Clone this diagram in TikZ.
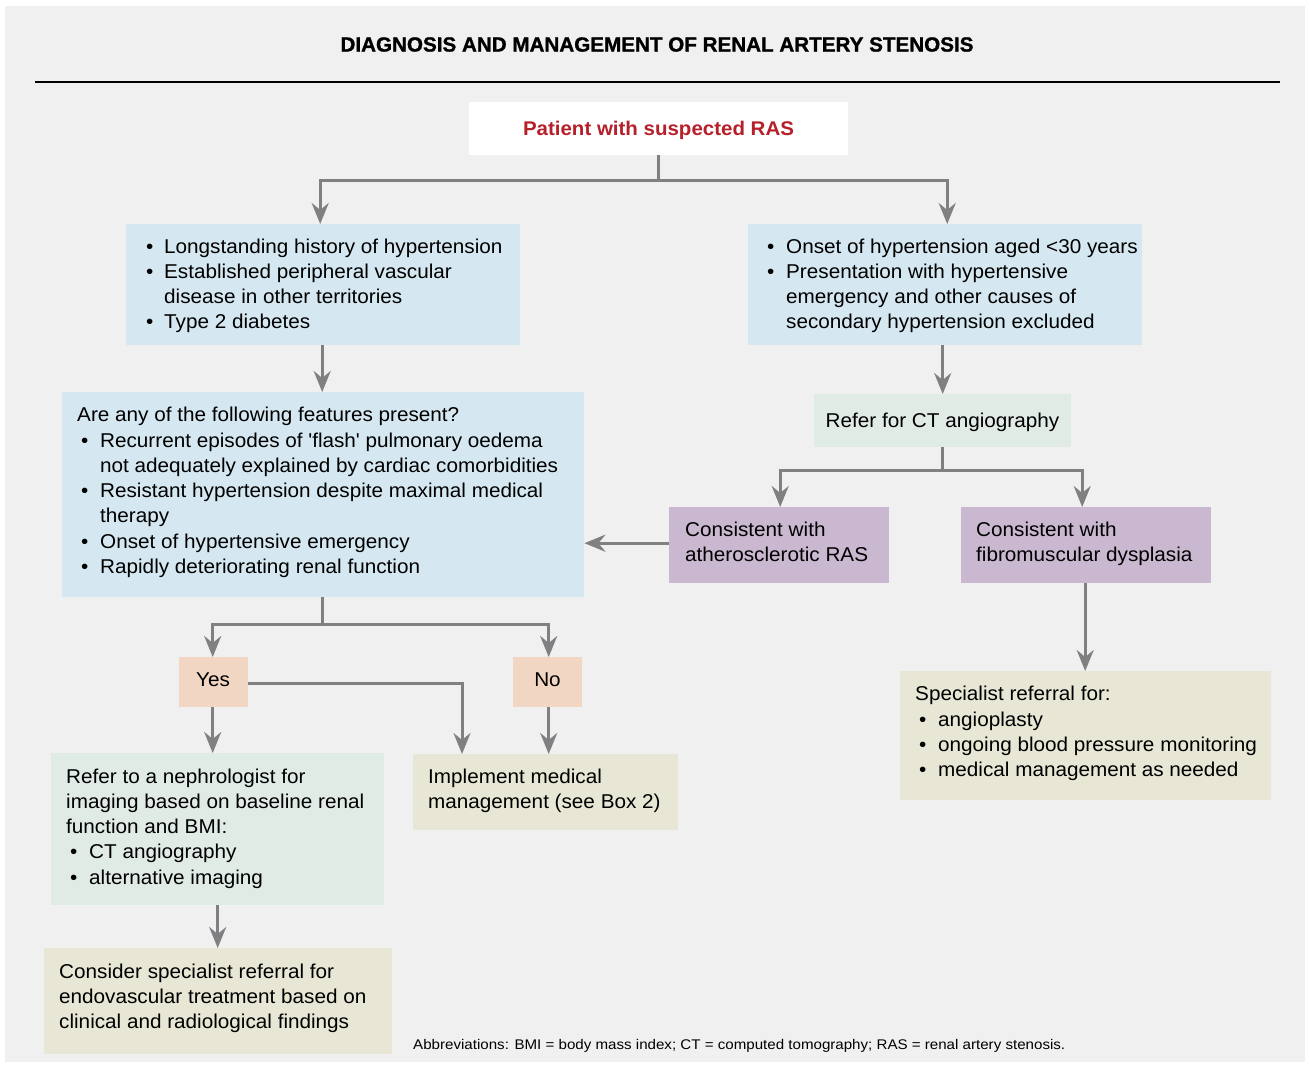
\documentclass[tikz,border=0pt]{standalone}
\usepackage{fontspec}
\setmainfont[FakeStretch=1.035]{Liberation Sans}
\newfontfamily\titlefont[FakeBold=1.2]{Liberation Sans Bold}
\usetikzlibrary{arrows.meta}
\definecolor{bg}{HTML}{F0F0F0}
\definecolor{bluebox}{HTML}{D5E7F0}
\definecolor{greenbox}{HTML}{E1EBE6}
\definecolor{purplebox}{HTML}{C9B8CF}
\definecolor{peachbox}{HTML}{F2D6C4}
\definecolor{beigebox}{HTML}{E8E6D5}
\definecolor{arrgray}{HTML}{808083}
\definecolor{titlered}{HTML}{B5202A}
\newcommand{\bu}[1]{\makebox[#1][l]{•}}
\begin{document}
\begin{tikzpicture}[x=1pt,y=-1pt,
  box/.style={draw=none, inner sep=0pt, anchor=north west},
  txt/.style={anchor=base west, inner sep=0pt, font=\fontsize{20}{25.3}\selectfont},
  ctxt/.style={anchor=base, inner sep=0pt, font=\fontsize{20}{25.3}\selectfont},
  arr/.style={draw=arrgray, line width=3pt, -{Stealth[length=21pt,width=17pt,inset=7pt]}},
  ln/.style={draw=arrgray, line width=3pt}
]
\fill[white] (0,0) rectangle (1309,1066);
\useasboundingbox (0,0) rectangle (1309,1066);
\fill[bg] (5,6) rectangle (1305,1062);

% title
\node[inner sep=0pt] (title) at (657,44.5) {\resizebox{633pt}{\height}{\fontsize{20.5}{24}\titlefont DIAGNOSIS AND MANAGEMENT OF RENAL ARTERY STENOSIS}};
\coordinate (rl) at (35,82);
\coordinate (rr) at (1280,82);
\draw[line width=1.6pt] (rl) -- (rr);

% boxes
\node[box, fill=white, minimum width=379pt, minimum height=53pt] (pat) at (469,102) {};
\node[box, fill=bluebox, minimum width=394pt, minimum height=121pt] (lb) at (126,224) {};
\node[box, fill=bluebox, minimum width=394pt, minimum height=121pt] (rb) at (748,224) {};
\node[box, fill=bluebox, minimum width=522pt, minimum height=205pt] (q) at (62,392) {};
\node[box, fill=greenbox, minimum width=257pt, minimum height=53pt] (ct) at (814,394) {};
\node[box, fill=purplebox, minimum width=220pt, minimum height=76pt] (ath) at (669,507) {};
\node[box, fill=purplebox, minimum width=250pt, minimum height=76pt] (fib) at (961,507) {};
\node[box, fill=peachbox, minimum width=69pt, minimum height=50pt] (yes) at (179,657) {};
\node[box, fill=peachbox, minimum width=69pt, minimum height=50pt] (no) at (513,657) {};
\node[box, fill=greenbox, minimum width=333pt, minimum height=152pt] (neph) at (51,753) {};
\node[box, fill=beigebox, minimum width=265pt, minimum height=76pt] (impl) at (413,754) {};
\node[box, fill=beigebox, minimum width=371pt, minimum height=129pt] (spec) at (900,671) {};
\node[box, fill=beigebox, minimum width=348pt, minimum height=106pt] (cons) at (44,948) {};

% texts
\node[anchor=base, inner sep=0pt, text=titlered, font=\fontsize{19.8}{24}\selectfont\bfseries] (patt) at (658.5,135.5) {Patient with suspected RAS};

\node[txt] (lbt) at (146,253) {\begin{tabular}[t]{@{}l@{}}
\bu{18pt}Longstanding history of hypertension\\
\bu{18pt}Established peripheral vascular\\
\hspace*{18pt}disease in other territories\\
\bu{18pt}Type 2 diabetes
\end{tabular}};

\node[txt] (rbt) at (767,253) {\begin{tabular}[t]{@{}l@{}}
\bu{19pt}Onset of hypertension aged <30 years\\
\bu{19pt}Presentation with hypertensive\\
\hspace*{19pt}emergency and other causes of\\
\hspace*{19pt}secondary hypertension excluded
\end{tabular}};

\node[txt] (qt) at (77,421.7) {\begin{tabular}[t]{@{}l@{}}
Are any of the following features present?\\
\hspace*{4pt}\bu{19pt}Recurrent episodes of \textquotesingle flash\textquotesingle{} pulmonary oedema\\
\hspace*{23pt}not adequately explained by cardiac comorbidities\\
\hspace*{4pt}\bu{19pt}Resistant hypertension despite maximal medical\\
\hspace*{23pt}therapy\\
\hspace*{4pt}\bu{19pt}Onset of hypertensive emergency\\
\hspace*{4pt}\bu{19pt}Rapidly deteriorating renal function
\end{tabular}};

\node[ctxt] (ctt) at (942.5,427) {Refer for CT angiography};

\node[txt] (atht) at (685,536.5) {\begin{tabular}[t]{@{}l@{}}
Consistent with\\ atherosclerotic RAS
\end{tabular}};
\node[txt] (fibt) at (976,536.5) {\begin{tabular}[t]{@{}l@{}}
Consistent with\\ fibromuscular dysplasia
\end{tabular}};

\node[ctxt] (yest) at (213,686) {Yes};
\node[ctxt] (not) at (547.5,686.5) {No};

\node[txt] (nepht) at (66,783) {\begin{tabular}[t]{@{}l@{}}
Refer to a nephrologist for\\
imaging based on baseline renal\\
function and BMI:\\
\hspace*{4pt}\bu{19pt}CT angiography\\
\hspace*{4pt}\bu{19pt}alternative imaging
\end{tabular}};

\node[txt] (implt) at (428,783) {\begin{tabular}[t]{@{}l@{}}
Implement medical\\ management (see Box 2)
\end{tabular}};

\node[txt] (spect) at (915,700.7) {\begin{tabular}[t]{@{}l@{}}
Specialist referral for:\\
\hspace*{4pt}\bu{19pt}angioplasty\\
\hspace*{4pt}\bu{19pt}ongoing blood pressure monitoring\\
\hspace*{4pt}\bu{19pt}medical management as needed
\end{tabular}};

\node[txt] (const) at (59,978) {\begin{tabular}[t]{@{}l@{}}
Consider specialist referral for\\
endovascular treatment based on\\
clinical and radiological findings
\end{tabular}};

\node[anchor=base west, inner sep=0pt] (abbr) at (413,1049) {\resizebox{652pt}{\height}{\fontsize{14}{17}\selectfont Abbreviations: BMI = body mass index; CT = computed tomography; RAS = renal artery stenosis.}};

% connectors
\coordinate (pj) at ([yshift=-25pt]pat.south);
\draw[ln] (pat.south) -- (pj);
\draw[arr] (pj) -| ([xshift=-3pt]lb.north);
\draw[arr] (pj) -| ([xshift=2pt]rb.north);
\draw[arr] ([xshift=-1pt]lb.south) -- ([xshift=-1pt]lb.south |- q.north);
\draw[arr] (ct.north |- rb.south) -- (ct.north);
\coordinate (cj) at ([yshift=-23pt]ct.south);
\draw[ln] (ct.south) -- (cj);
\draw[arr] (cj) -| ([xshift=1pt]ath.north);
\draw[arr] (cj) -| ([xshift=-4pt]fib.north);
\draw[arr] ([yshift=2pt]ath.west) -- ([yshift=2pt]ath.west -| q.east);
\draw[arr] ([xshift=-1pt]fib.south) -- ([xshift=-1pt]fib.south |- spec.north);
\coordinate (qj) at ([yshift=-27pt]q.south);
\draw[ln] ([xshift=-1pt]q.south) -- ([xshift=-1pt]qj);
\draw[arr] ([xshift=-1pt]qj) -| ([xshift=-1pt]yes.north);
\draw[arr] ([xshift=-1pt]qj) -| ([xshift=1pt]no.north);
\draw[arr] ([xshift=-1pt]yes.south) -- ([xshift=-1pt]yes.south |- neph.north);
\draw[arr] ([yshift=-1pt]yes.east) -| ([xshift=49pt]impl.north west);
\draw[arr] ([xshift=1pt]no.south) -- ([xshift=1pt]no.south |- impl.north);
\draw[arr] (neph.south) -- (neph.south |- cons.north);
\end{tikzpicture}
\end{document}
